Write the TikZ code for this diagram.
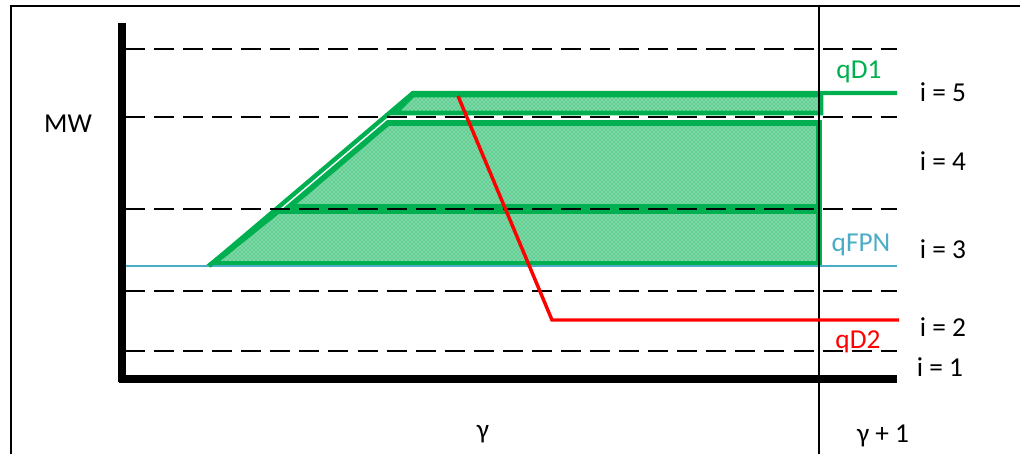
\documentclass[tikz,border=0pt]{standalone}
\usepackage{fontspec}
\usetikzlibrary{patterns}
\setmainfont{Carlito}
\definecolor{qgreen}{RGB}{0,176,80}
\definecolor{qblue}{RGB}{75,172,198}
\definecolor{qred}{RGB}{255,0,0}
\begin{document}
\begin{tikzpicture}[x=0.75pt,y=-0.75pt,
  lbl/.style={font=\fontsize{20.5}{24}\selectfont,inner sep=0pt,anchor=base},
  grid/.style={line width=2.1pt,dash pattern=on 15pt off 6.8pt},
  band/.style={draw=qgreen,line width=4.2pt,line join=miter},
  bandfill/.style={fill=qgreen!62!white},
  axis/.style={line width=5.6pt}]
\useasboundingbox (0,0) rectangle (1020,454);
% frame
\draw[line width=2.2pt] (11,454) -- (11,6) -- (1021,6);
% green bands (fill with dotted texture)
\foreach \p in {{(212,264) -- (278,211) -- (819,211) -- (819,264) -- cycle},
                {(289,207) -- (388,123) -- (819,123) -- (819,207) -- cycle},
                {(395,113) -- (413,95) -- (821,95) -- (821,113) -- cycle}}{
  \path[bandfill] \p;
  \path[pattern=crosshatch dots,pattern color=white!90!qgreen] \p;
}
\draw[band] (212,264) -- (278,211) -- (819,211) -- (819,264) -- cycle;
\draw[band] (289,207) -- (388,123) -- (819,123) -- (819,207) -- cycle;
\draw[band,line width=3.4pt] (395,113) -- (413,95) -- (821,95) -- (821,113) -- cycle;
% blue line
\coordinate (b1) at (125,266); \coordinate (b2) at (897,266);
\draw[qblue,line width=2.2pt] (b1) -- (b2);
% qD1 line
\coordinate (g1) at (209,266); \coordinate (g2) at (413,93); \coordinate (g3) at (897,93);
\draw[qgreen,line width=3.3pt,line join=miter] (g1) -- (g2) -- (g3);
% dashed levels
\foreach \yy in {49,117,209,291,351}{\draw[grid] (125,\yy) -- (897,\yy);}
% vertical gamma+1 line
\draw[line width=1.6pt] (819,6) -- (819,454);
% axes
\draw[axis] (122,23) -- (122,382);
\draw[axis] (119,379) -- (897,379);
% red qD2
\coordinate (r1) at (458,96); \coordinate (r2) at (552,320); \coordinate (r3) at (899,320);
\draw[qred,line width=2.6pt] (r1) -- (r2) -- (r3);
% labels
\node[lbl] (mw) at (68,132) {MW};
\node[lbl,text=qgreen] (qd1) at (859,78) {qD1};
\node[lbl,text=qblue] (qfpn) at (861,251) {qFPN};
\node[lbl,text=qred] (qd2) at (858,348) {qD2};
\node[lbl] (i5) at (943,101) {i = 5};
\node[lbl] (i4) at (943,170) {i = 4};
\node[lbl] (i3) at (943,258) {i = 3};
\node[lbl] (i2) at (943,336) {i = 2};
\node[lbl] (i1) at (940,376) {i = 1};
\node[lbl] (gam) at (483,438) {γ};
\node[lbl] (gam1) at (883,442) {γ + 1};
\end{tikzpicture}
\end{document}
